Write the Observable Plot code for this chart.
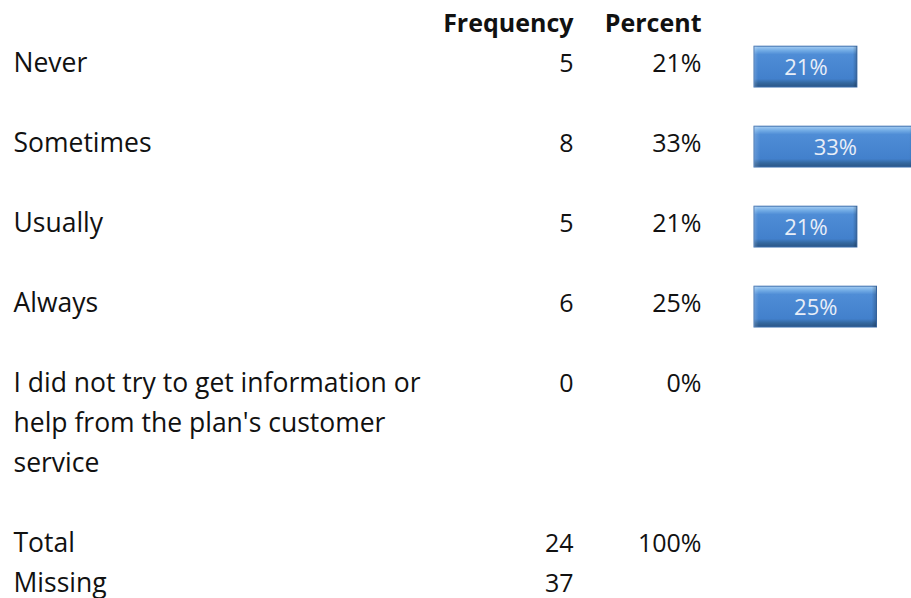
<!DOCTYPE html>
<html>
<head>
<meta charset="utf-8">
<script src="https://cdn.jsdelivr.net/npm/d3@7"></script>
<script src="https://cdn.jsdelivr.net/npm/@observablehq/plot@0.6"></script>
<style>
  html, body { margin: 0; padding: 0; background: #fff; overflow: hidden; }
  #chart svg { display: block; }
</style>
</head>
<body>
<div id="chart"></div>
<script>
// ---- data ----
const headers = ["Frequency", "Percent"];
const categories = [
  "Never",
  "Sometimes",
  "Usually",
  "Always",
  "I did not try to get information or\nhelp from the plan's customer\nservice"
];
const frequency = [5, 8, 5, 6, 0];
const percent = [21, 33, 21, 25, 0];
const summaryLabels = ["Total", "Missing"];
const summaryFrequency = [24, 37];
const summaryPercent = ["100%", ""];

// ---- layout ----
const W = 911, H = 598;
const FONT = "Open Sans";
const colLabel = 13, colFreq = 573, colPct = 701;
const labelSize = 26.5, numSize = 25, headSize = 25, barLabelSize = 22;
const ink = "#111";

// compute line indices (one line = one text row)
let line = 0;
const rows = categories.map((c, i) => {
  const parts = c.split("\n");
  const r = {cat: c, parts, line, freq: frequency[i], pct: percent[i]};
  line += parts.length + 1;
  return r;
});
const summary = summaryLabels.map((s, i) => ({
  cat: s, line: line + i, freq: summaryFrequency[i], pct: summaryPercent[i]
}));
const labelLines = rows.flatMap(r => r.parts.map((p, k) => ({text: p, line: r.line + k})))
  .concat(summary.map(s => ({text: s.cat, line: s.line})));
const bars = rows.filter(r => r.pct > 0);

const chart = Plot.plot({
  width: W, height: H,
  margin: 0,
  x: {domain: [0, 100], range: [754, 1244], axis: null},
  y: {domain: [-1, 13], range: [23, 583], axis: null},
  style: {fontFamily: FONT, fontSize: "23px", color: ink, background: "#fff", overflow: "hidden"},
  marks: [
    // headers
    Plot.text([headers[0]], {frameAnchor: "left", dx: colFreq, y: () => -1, text: d => d, textAnchor: "end", fontWeight: "bold", fontSize: headSize, fill: ink}),
    Plot.text([headers[1]], {frameAnchor: "left", dx: colPct, y: () => -1, text: d => d, textAnchor: "end", fontWeight: "bold", fontSize: headSize, fill: ink}),
    // category labels
    Plot.text(labelLines, {frameAnchor: "left", dx: colLabel, y: "line", text: "text", textAnchor: "start", fontSize: labelSize, fill: ink}),
    // frequencies
    Plot.text(rows.concat(summary), {frameAnchor: "left", dx: colFreq, y: "line", text: d => String(d.freq), textAnchor: "end", fontSize: numSize, fill: ink}),
    // percents
    Plot.text(rows, {frameAnchor: "left", dx: colPct, y: "line", text: d => d.pct + "%", textAnchor: "end", fontSize: numSize, fill: ink}),
    Plot.text(summary, {frameAnchor: "left", dx: colPct, y: "line", text: "pct", textAnchor: "end", fontSize: numSize, fill: ink}),
    // bars
    Plot.rectX(bars, {x1: 0, x2: "pct", y1: d => d.line - 0.42, y2: d => d.line + 0.6, fill: "url(#barGrad)", stroke: "#3b6eae", strokeWidth: 1}),
    Plot.rectX(bars, {x1: 0, x2: "pct", y1: d => d.line - 0.42, y2: d => d.line + 0.6, fill: "url(#barShade)", stroke: "none"}),
    Plot.text(bars, {x: d => d.pct / 2, y: d => d.line + 0.12, text: d => d.pct + "%", fill: "#e8eef8", fontSize: barLabelSize})
  ]
});

// gradient defs for bevelled bars
const svg = d3.select(chart);
const defs = svg.insert("defs", ":first-child");
const g = defs.append("linearGradient").attr("id", "barGrad").attr("x1", 0).attr("y1", 0).attr("x2", 0).attr("y2", 1);
[["0%", "#a6cdf2"], ["10%", "#74ade6"], ["20%", "#4f8dd6"], ["80%", "#4280cc"], ["90%", "#34689f"], ["100%", "#2a5586"]]
  .forEach(([o, c]) => g.append("stop").attr("offset", o).attr("stop-color", c));
const h = defs.append("linearGradient").attr("id", "barShade").attr("x1", 0).attr("y1", 0).attr("x2", 1).attr("y2", 0);
[["0%", "#ffffff", 0.18], ["4%", "#ffffff", 0], ["96%", "#000000", 0], ["100%", "#000000", 0.22]]
  .forEach(([o, c, a]) => h.append("stop").attr("offset", o).attr("stop-color", c).attr("stop-opacity", a));

document.getElementById("chart").appendChild(chart);
</script>
</body>
</html>
